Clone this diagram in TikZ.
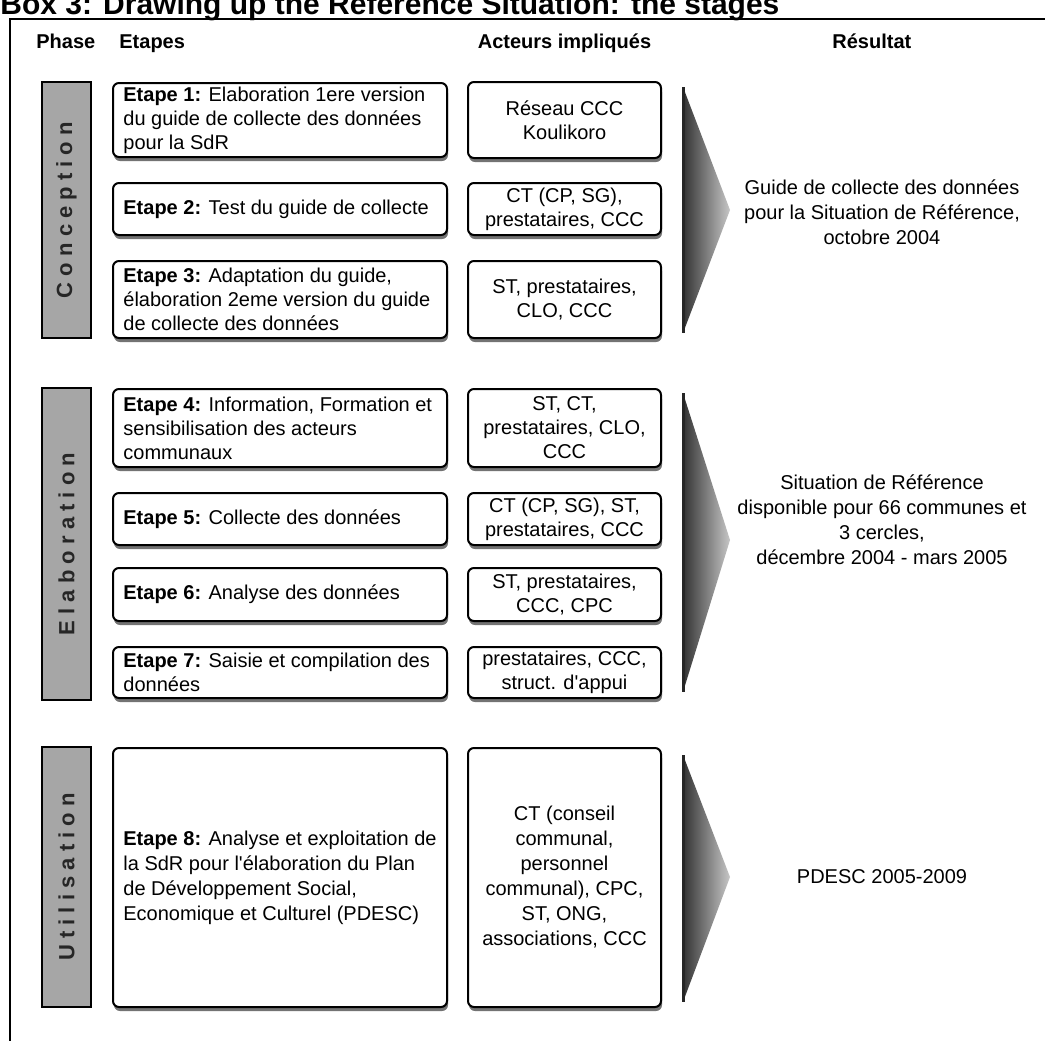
\documentclass[tikz,border=0pt]{standalone}
\usepackage{fontspec}
\setmainfont{Liberation Sans}
\usetikzlibrary{shadows}
\begin{document}
\begin{tikzpicture}[x=0.5pt,y=-0.5pt,
  box/.style={draw=black, line width=1pt, rounded corners=3pt, fill=white, inner sep=0pt,
    drop shadow={shadow xshift=0.5pt, shadow yshift=-2pt, fill=black!55, opacity=1}},
  stepbox/.style={box, minimum width=167pt},
  steptext/.style={anchor=west, align=left, inner sep=0pt, font=\fontsize{10}{12}\selectfont},
  actor/.style={box, align=center, font=\fontsize{10}{12}\selectfont, minimum width=96.5pt},
  phasebar/.style={draw=black, line width=1.2pt, fill=black!35, minimum width=24.5pt, inner sep=0pt},
  phasetext/.style={rotate=90, font=\fontsize{11}{13}\bfseries\selectfont, text=black!85},
  tri/.style={left color=black!80, right color=black!22},
  triedge/.style={line width=1.5pt, black!85},
  result/.style={align=center, font=\fontsize{10}{12.5}\selectfont},
  header/.style={font=\fontsize{10}{12}\bfseries\selectfont, inner sep=0pt}]
\useasboundingbox (0,0) rectangle (1045,1040);

% title and frame
\node[anchor=base west, inner sep=0pt, font=\fontsize{15}{18}\bfseries\selectfont] (title) at (0,14) {Box 3: Drawing up the Reference Situation: the stages};
\draw[line width=1.2pt] (10,1050) -- (10,19) -- (1055,19);

% headers
\node[header, anchor=base west] (hp) at (36,48) {Phase};
\node[header, anchor=base west] (he) at (119,48) {Etapes};
\node[header, anchor=base] (ha) at (564.5,48) {Acteurs impliqués};
\node[header, anchor=base west] (hr) at (832,48) {Résultat};

% phase bars
\node[phasebar, minimum height=128pt] (b1) at (66.5,210) {};
\node[phasetext] (b1t) at (b1.center) {C o n c e p t i o n};
\node[phasebar, minimum height=156pt] (b2) at (66.5,544) {};
\node[phasetext] (b2t) at (b2.center) {E l a b o r a t i o n};
\node[phasebar, minimum height=130pt] (b3) at (66.5,877) {};
\node[phasetext] (b3t) at (b3.center) {U t i l i s a t i o n};

% step boxes
\node[stepbox, minimum height=37pt] (s1) at (280,120) {};
\node[steptext] (s1t) at ([xshift=5.5pt]s1.west) {\textbf{Etape 1:} Elaboration 1ere version\\du guide de collecte des données\\pour la SdR};
\node[stepbox, minimum height=26pt] (s2) at (280,209) {};
\node[steptext] (s2t) at ([xshift=5.5pt]s2.west) {\textbf{Etape 2:} Test du guide de collecte};
\node[stepbox, minimum height=38.5pt] (s3) at (280,299.5) {};
\node[steptext] (s3t) at ([xshift=5.5pt]s3.west) {\textbf{Etape 3:} Adaptation du guide,\\élaboration 2eme version du guide\\de collecte des données};
\node[stepbox, minimum height=39pt] (s4) at (280,428) {};
\node[steptext] (s4t) at ([xshift=5.5pt]s4.west) {\textbf{Etape 4:} Information, Formation et\\sensibilisation des acteurs\\communaux};
\node[stepbox, minimum height=26pt] (s5) at (280,519) {};
\node[steptext] (s5t) at ([xshift=5.5pt]s5.west) {\textbf{Etape 5:} Collecte des données};
\node[stepbox, minimum height=26.5pt] (s6) at (280,594.5) {};
\node[steptext] (s6t) at ([xshift=5.5pt]s6.west) {\textbf{Etape 6:} Analyse des données};
\node[stepbox, minimum height=25.5pt] (s7) at (280,672.5) {};
\node[steptext] (s7t) at ([xshift=5.5pt]s7.west) {\textbf{Etape 7:} Saisie et compilation des\\données};
\node[stepbox, minimum height=129.5pt] (s8) at (280,877.5) {};
\node[steptext, font=\fontsize{10}{12.5}\selectfont] (s8t) at ([xshift=5.5pt]s8.west) {\textbf{Etape 8:} Analyse et exploitation de\\la SdR pour l\textquotesingle élaboration du Plan\\de Développement Social,\\Economique et Culturel (PDESC)};

% actor boxes
\node[actor, minimum height=38pt] (a1) at (564.5,120) {Réseau CCC\\Koulikoro};
\node[actor, minimum height=26pt] (a2) at (564.5,209) {CT (CP, SG),\\prestataires, CCC};
\node[actor, minimum height=38.5pt] (a3) at (564.5,299.5) {ST, prestataires,\\CLO, CCC};
\node[actor, minimum height=39pt] (a4) at (564.5,428) {ST, CT,\\prestataires, CLO,\\CCC};
\node[actor, minimum height=26pt] (a5) at (564.5,519) {CT (CP, SG), ST,\\prestataires, CCC};
\node[actor, minimum height=26.5pt] (a6) at (564.5,594.5) {ST, prestataires,\\CCC, CPC};
\node[actor, minimum height=25.5pt] (a7) at (564.5,672.5) {prestataires, CCC,\\struct. d\textquotesingle appui};
\node[actor, minimum height=129.5pt, font=\fontsize{10}{12.5}\selectfont] (a8) at (564.5,877.5) {CT (conseil\\communal,\\personnel\\communal), CPC,\\ST, ONG,\\associations, CCC};

% triangles
\shade[tri] (683,87) -- (730,210) -- (683,333) -- cycle;
\draw[triedge] (683,87) -- (683,333);
\shade[tri] (683,393) -- (730,540) -- (683,692) -- cycle;
\draw[triedge] (683,393) -- (683,692);
\shade[tri] (683,755) -- (730,877) -- (683,1002) -- cycle;
\draw[triedge] (683,755) -- (683,1002);

% results
\node[result] (r1) at (882,212) {Guide de collecte des données\\pour la Situation de Référence,\\octobre 2004};
\node[result] (r2) at (882,520) {Situation de Référence\\disponible pour 66 communes et\\3 cercles,\\décembre 2004 - mars 2005};
\node[result] (r3) at (882,877) {PDESC 2005-2009};
\end{tikzpicture}
\end{document}
